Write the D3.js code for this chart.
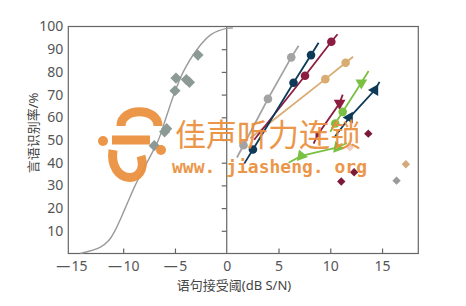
<!DOCTYPE html>
<html>
<head>
<meta charset="utf-8">
<script src="https://cdn.jsdelivr.net/npm/d3@7"></script>
<style>
  body { margin: 0; background: #fff; }
  svg text { font-family: "Noto Sans", "Noto Sans CJK SC", sans-serif; }
</style>
</head>
<body>
<script>
// left panel: fitted psychometric curve (dB S/N, %)
const curvePts = [[-14.15,0],[-12.2,2.8],[-11.4,5.7],[-10.8,10],[-9.8,20],[-8.84,30],[-7.71,40],
  [-6.6,50],[-5.85,60],[-5.1,70],[-4.2,80],[-2.85,90],[-1.5,96.5],[0,99.2],[0.6,99.3]];
const leftDiamonds = [[-2.78,87.4],[-4.9,77.3],[-3.9,76.6],[-3.6,75.4],[-5.0,71.7],[-6.0,53.6],[-5.8,55],[-7.0,47.5]];

// right panel: line series, first/last point = line ends, middle = markers
const grayPts = [[0.99,42.3],[1.62,47.7],[3.98,68.1],[6.23,86.4],[6.94,91.5]];
const navyPts = [[1.69,39.6],[2.53,45.8],[6.45,75.2],[8.14,87.4],[8.87,92.8]];
const crimsonPts = [[2.65,50.1],[7.56,78.3],[10.1,93.3],[10.7,96.6]];
const tanPts = [[2.27,50.8],[9.52,76.8],[11.48,84],[12.2,86.7]];
const greenAPts = [[10.0,53.6],[10.48,57.3],[11.2,62.4],[13.0,75.2],[13.7,80.4]];
const greenBPts = [[5.97,40.0],[7.2,43.0],[10.7,46.7],[11.6,48.7]];
const navyBPts = [[10.4,51.2],[11.85,59.9],[14.3,72],[14.76,75.6]];
const crimsonBPts = [[8.39,48.4],[8.8,52.4],[10.9,66.2],[11.2,70]];

// loose diamonds in the right panel
const crimsonDots = [[13.67,52.8],[11.06,31.7],[12.3,35.8]];
const tanDots = [[17.3,39.3]];
const grayDots = [[16.4,32.1]];
const paleDots = [[11.9,46.8]];

const yTicks = [10,20,30,40,50,60,70,80,90,100];
const xTicks = [-15,-10,-5,0,5,10,15];

const W = 466, H = 306;
const svg = d3.select("body").append("svg").attr("width", W).attr("height", H);

const x = d3.scaleLinear().domain([-15.3, 18.5]).range([68.3, 418.3]);
const y = d3.scaleLinear().domain([0, 100]).range([253.5, 26.5]);

const axisCol = "#666";

// frame
svg.append("rect")
  .attr("x", x(-15.3)).attr("y", y(100))
  .attr("width", x(18.5) - x(-15.3)).attr("height", y(0) - y(100))
  .attr("fill", "none").attr("stroke", axisCol).attr("stroke-width", 1.2);

// bottom axis (ticks pointing up)
const xAxis = d3.axisBottom(x).tickValues(xTicks).tickSizeInner(-5).tickSizeOuter(0)
  .tickPadding(8)
  .tickFormat(d => d < 0 ? "\u2014\u200a" + Math.abs(d) : d);
const gx = svg.append("g").attr("transform", `translate(0,${y(0)})`).call(xAxis);
gx.select(".domain").remove();
gx.selectAll(".tick line").attr("stroke", axisCol).attr("stroke-width", 1.2)
  .filter(d => d === 0 || d === -15).remove();
gx.selectAll("text").attr("fill", "#555").style("font-size", "14px");

// left labels (no tick marks)
const yAxis = d3.axisLeft(y).tickValues(yTicks).tickSize(0).tickPadding(5);
const gy = svg.append("g").attr("transform", `translate(${x(-15.3)},0)`).call(yAxis);
gy.select(".domain").remove();
gy.selectAll("text").attr("fill", "#555").style("font-size", "14px");

// middle line at 0 dB with ticks pointing left
const mid = d3.axisLeft(y).tickValues(yTicks.slice(0, 9)).tickSize(5).tickFormat("");
const gm = svg.append("g").attr("transform", `translate(${x(0)},0)`).call(mid);
gm.select(".domain").remove();
gm.selectAll(".tick line").attr("stroke", axisCol).attr("stroke-width", 1.2);
svg.append("line").attr("x1", x(0)).attr("x2", x(0)).attr("y1", y(100)).attr("y2", y(0))
  .attr("stroke", axisCol).attr("stroke-width", 1.2);

// titles
svg.append("text").attr("x", 234).attr("y", 290).attr("text-anchor", "middle")
  .attr("fill", "#444").style("font-size", "13px").text("语句接受阈(dB S/N)");
svg.append("text").attr("transform", "translate(38,133) rotate(-90)").attr("text-anchor", "middle")
  .attr("fill", "#444").style("font-size", "13px").text("言语识别率/%");

const line = d3.line().x(d => x(d[0])).y(d => y(d[1]));

// left curve + diamonds
svg.append("path").datum(curvePts)
  .attr("d", line.curve(d3.curveCatmullRom)).attr("fill", "none")
  .attr("stroke", "#9a9a9a").attr("stroke-width", 1.4);
line.curve(d3.curveLinear);

const diamond = d3.symbol().type(d3.symbolDiamond2);
function diamonds(data, col, size) {
  svg.append("g").selectAll("path").data(data).join("path")
    .attr("d", diamond.size(size)())
    .attr("transform", d => `translate(${x(d[0])},${y(d[1])})`)
    .attr("fill", col);
}
diamonds(leftDiamonds, "#8c9a95", 80);

// right series
const series = [
  { pts: grayPts, col: "#a3a3a3", mark: "circle" },
  { pts: tanPts, col: "#d9ac72", mark: "circle" },
  { pts: crimsonPts, col: "#8c1c40", mark: "circle" },
  { pts: navyPts, col: "#0e3a58", mark: "circle" },
  { pts: crimsonBPts, col: "#8c1c40", mark: "tri", rot: [0, 180] },
  { pts: greenAPts, col: "#7ac143", mark: "circle", last: "tri", rot: [0, 0, 180] },
  { pts: navyBPts, col: "#0e3a58", mark: "tri", rot: [150, 150] },
  { pts: greenBPts, col: "#7ac143", mark: "tri", rot: [100, 100] }
];
const tri = d3.symbol().type(d3.symbolTriangle).size(60);
series.forEach(s => {
  svg.append("path").datum(s.pts).attr("d", line).attr("fill", "none")
    .attr("stroke", s.col).attr("stroke-width", 1.8);
  const marks = s.pts.slice(1, -1);
  marks.forEach((d, i) => {
    const isTri = s.mark === "tri" || (s.last === "tri" && i === marks.length - 1);
    if (isTri) {
      const r = s.rot ? s.rot[i] : 180;
      svg.append("path").attr("d", r === 0 && s.mark === "tri" ? d3.symbol().type(d3.symbolSquare).size(22)() : tri())
        .attr("transform", `translate(${x(d[0])},${y(d[1])}) rotate(${r})`)
        .attr("fill", s.col);
    } else {
      svg.append("circle").attr("cx", x(d[0])).attr("cy", y(d[1])).attr("r", 4.3)
        .attr("fill", s.col);
    }
  });
});

diamonds(crimsonDots, "#7a1a38", 45);
diamonds(tanDots, "#d4aa7a", 45);
diamonds(grayDots, "#9a9c9c", 45);
diamonds(paleDots, "#f2cfc6", 45);

// watermark
const wm = svg.append("g").attr("fill", "#ea8f3c").attr("opacity", 0.93);
wm.append("circle").attr("cx", 103).attr("cy", 141).attr("r", 5);
wm.append("circle").attr("cx", 161).attr("cy", 150).attr("r", 5);
wm.append("path").attr("d", "M121,126 C121,107 158,107 158,126")
  .attr("fill", "none").attr("stroke", "#ea8f3c").attr("stroke-width", 9);
wm.append("path").attr("d", "M112,140 L150,140")
  .attr("fill", "none").attr("stroke", "#ea8f3c").attr("stroke-width", 9);
wm.append("path").attr("d", "M113,150 C108,185 150,186 141,156")
  .attr("fill", "none").attr("stroke", "#ea8f3c").attr("stroke-width", 9);
wm.append("text").attr("x", 175).attr("y", 146).style("font-size", "31px")
  .style("font-family", "'Noto Sans CJK SC'").text("佳声听力连锁");
wm.append("text").attr("x", 172).attr("y", 173).style("font-size", "18px").style("font-weight", "bold")
  .style("font-family", "'DejaVu Sans Mono'").attr("textLength", 195).text("www. jiasheng. org");
</script>
</body>
</html>
